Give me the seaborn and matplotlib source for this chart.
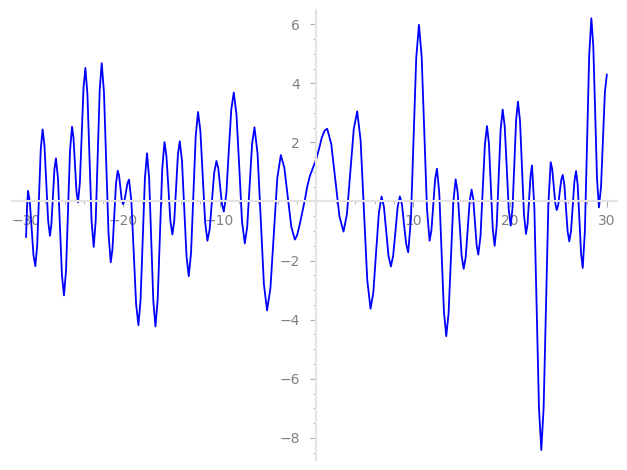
import numpy as np
import pandas as pd
import seaborn as sns
import matplotlib.pyplot as plt
from matplotlib.ticker import MultipleLocator, FixedLocator

# curve samples (extremum + 3 points on the way to the next one)
x_vals = [-30.0, -29.9,
          -29.8, -29.61, -29.42, -29.23,
          -29.04, -28.85, -28.67, -28.48,
          -28.29, -28.10, -27.91, -27.72,
          -27.53, -27.38, -27.22, -27.07,
          -26.91, -26.70, -26.50, -26.29,
          -26.08, -25.87, -25.67, -25.46,
          -25.25, -25.10, -24.94, -24.79,
          -24.63, -24.44, -24.25, -24.06,
          -23.87, -23.66, -23.44, -23.23,
          -23.01, -22.80, -22.60, -22.39,
          -22.18, -21.95, -21.72, -21.48,
          -21.25, -21.07, -20.89, -20.71,
          -20.53, -20.39, -20.26, -20.12,
          -19.98, -19.83, -19.67, -19.52,
          -19.36, -19.12, -18.88, -18.63,
          -18.39, -18.17, -17.95, -17.72,
          -17.50, -17.28, -17.07, -16.85,
          -16.63, -16.40, -16.17, -15.93,
          -15.70, -15.50, -15.29, -15.09,
          -14.88, -14.69, -14.50, -14.31,
          -14.12, -13.89, -13.66, -13.42,
          -13.19, -12.95, -12.71, -12.47,
          -12.23, -11.99, -11.75, -11.50,
          -11.26, -11.03, -10.80, -10.56,
          -10.33, -10.14, -9.95, -9.76,
          -9.57, -9.31, -9.06, -8.80,
          -8.54, -8.26, -7.97, -7.69,
          -7.40, -7.15, -6.90, -6.65,
          -6.40, -6.08, -5.75, -5.43,
          -5.10, -4.75, -4.39, -4.04,
          -3.68, -3.32, -2.96, -2.59,
          -2.23, -2.00, -1.72, -1.45,
          -1.20, -0.95, -0.68, -0.35,
          0.00, 0.30, 0.55, 0.85,
          1.11, 1.53, 1.96, 2.38,
          2.80, 3.15, 3.51, 3.86,
          4.21, 4.56, 4.90, 5.25,
          5.59, 5.88, 6.16, 6.45,
          6.73, 6.97, 7.21, 7.45,
          7.69, 7.92, 8.16, 8.39,
          8.62, 8.84, 9.05, 9.27,
          9.48, 9.76, 10.04, 10.31,
          10.59, 10.87, 11.14, 11.42,
          11.69, 11.88, 12.07, 12.26,
          12.45, 12.69, 12.93, 13.17,
          13.41, 13.65, 13.90, 14.14,
          14.38, 14.59, 14.80, 15.00,
          15.21, 15.42, 15.62, 15.83,
          16.03, 16.20, 16.38, 16.55,
          16.72, 16.95, 17.17, 17.40,
          17.62, 17.82, 18.02, 18.21,
          18.41, 18.62, 18.83, 19.03,
          19.24, 19.45, 19.66, 19.86,
          20.07, 20.26, 20.45, 20.63,
          20.82, 21.03, 21.24, 21.44,
          21.65, 21.81, 21.96, 22.12,
          22.27, 22.51, 22.75, 22.99,
          23.23, 23.47, 23.72, 23.96,
          24.20, 24.36, 24.51, 24.67,
          24.82, 24.98, 25.13, 25.29,
          25.44, 25.61, 25.78, 25.95,
          26.12, 26.30, 26.47, 26.65,
          26.82, 26.99, 27.17, 27.34,
          27.51, 27.73, 27.96, 28.18,
          28.40, 28.60, 28.80, 28.99,
          29.19, 29.40, 29.60, 29.80,
          30.0]

y_vals = [-1.21, -0.25,
          0.36, -0.01, -0.92, -1.82,
          -2.19, -1.51, 0.13, 1.76,
          2.44, 1.91, 0.64, -0.63,
          -1.16, -0.78, 0.15, 1.08,
          1.46, 0.78, -0.86, -2.50,
          -3.18, -2.35, -0.33, 1.70,
          2.53, 2.16, 1.25, 0.34,
          -0.03, 0.63, 2.25, 3.86,
          4.52, 3.64, 1.49, -0.66,
          -1.54, -0.63, 1.57, 3.77,
          4.68, 3.70, 1.31, -1.08,
          -2.06, -1.61, -0.51, 0.59,
          1.04, 0.88, 0.48, 0.08,
          -0.09, 0.03, 0.33, 0.62,
          0.74, 0.02, -1.73, -3.47,
          -4.19, -3.34, -1.28, 0.78,
          1.63, 0.77, -1.30, -3.37,
          -4.23, -3.32, -1.11, 1.10,
          2.01, 1.55, 0.45, -0.66,
          -1.12, -0.66, 0.46, 1.58,
          2.04, 1.37, -0.25, -1.86,
          -2.53, -1.72, 0.25, 2.22,
          3.03, 2.39, 0.85, -0.69,
          -1.33, -0.94, 0.02, 0.98,
          1.37, 1.12, 0.52, -0.09,
          -0.34, 0.25, 1.68, 3.10,
          3.69, 2.94, 1.14, -0.67,
          -1.42, -0.85, 0.55, 1.94,
          2.51, 1.61, -0.59, -2.79,
          -3.69, -2.92, -1.06, 0.80,
          1.57, 1.15, 0.14, -0.87,
          -1.29, -1.15, -0.77, -0.35,
          0.05, 0.50, 0.86, 1.15,
          1.45, 1.82, 2.16, 2.40,
          2.46, 1.95, 0.72, -0.51,
          -1.02, -0.43, 1.02, 2.46,
          3.05, 2.08, -0.29, -2.66,
          -3.63, -3.08, -1.73, -0.39,
          0.17, -0.18, -1.02, -1.85,
          -2.20, -1.85, -1.02, -0.18,
          0.17, -0.11, -0.78, -1.44,
          -1.72, -0.60, 2.13, 4.86,
          5.98, 4.91, 2.33, -0.26,
          -1.33, -0.97, -0.11, 0.75,
          1.11, 0.28, -1.73, -3.73,
          -4.56, -3.79, -1.91, -0.03,
          0.75, 0.31, -0.77, -1.84,
          -2.28, -1.89, -0.94, 0.01,
          0.40, 0.08, -0.70, -1.48,
          -1.80, -1.17, 0.38, 1.92,
          2.55, 1.96, 0.53, -0.91,
          -1.50, -0.83, 0.81, 2.44,
          3.11, 2.54, 1.15, -0.25,
          -0.82, -0.21, 1.28, 2.77,
          3.38, 2.73, 1.14, -0.45,
          -1.10, -0.76, 0.06, 0.88,
          1.22, -0.19, -3.60, -7.00,
          -8.41, -6.99, -3.54, -0.09,
          1.33, 1.09, 0.52, -0.05,
          -0.29, -0.12, 0.31, 0.73,
          0.90, 0.57, -0.23, -1.02,
          -1.35, -1.00, -0.16, 0.68,
          1.03, 0.55, -0.61, -1.77,
          -2.25, -1.02, 1.98, 4.97,
          6.20, 5.27, 3.00, 0.73,
          -0.20, 0.50, 2.10, 3.70,
          4.30]

x_major = [-30, -20, -10, 10, 20, 30]
y_major = [-8, -6, -4, -2, 2, 4, 6]

df = pd.DataFrame({"x": x_vals, "y": y_vals})

sns.set_style("white")
fig, ax = plt.subplots(figsize=(6.27, 4.70), dpi=100)
fig.subplots_adjust(left=12/627, right=617/627, bottom=10/470, top=460/470)

sns.lineplot(data=df, x="x", y="y", color="blue", linewidth=1.3,
             estimator=None, sort=False, ax=ax)

ax.set_xlim(-31.45, 31.05)
ax.set_ylim(-8.75, 6.48)

# sage-like axes crossing at the origin
for side in ["top", "right"]:
    ax.spines[side].set_visible(False)
ax.spines["left"].set_position(("data", 0))
ax.spines["bottom"].set_position(("data", 0))
for side in ["left", "bottom"]:
    ax.spines[side].set_color("#e3e3e3")
    ax.spines[side].set_linewidth(1.5)

ax.xaxis.set_major_locator(FixedLocator(x_major))
ax.xaxis.set_minor_locator(MultipleLocator(2))
ax.yaxis.set_major_locator(FixedLocator(y_major))
ax.yaxis.set_minor_locator(MultipleLocator(0.5))
ax.tick_params(which="both", bottom=True, left=True, direction="out")
ax.tick_params(which="major", length=4, width=0.8, color="#aaaaaa",
               labelcolor="#808080", labelsize=10, pad=5)
ax.tick_params(which="minor", length=2.5, width=0.6, color="#aaaaaa")
ax.tick_params(axis="y", which="major", pad=8)
ax.set_xlabel("")
ax.set_ylabel("")

fig.savefig("out.png", dpi=100)
